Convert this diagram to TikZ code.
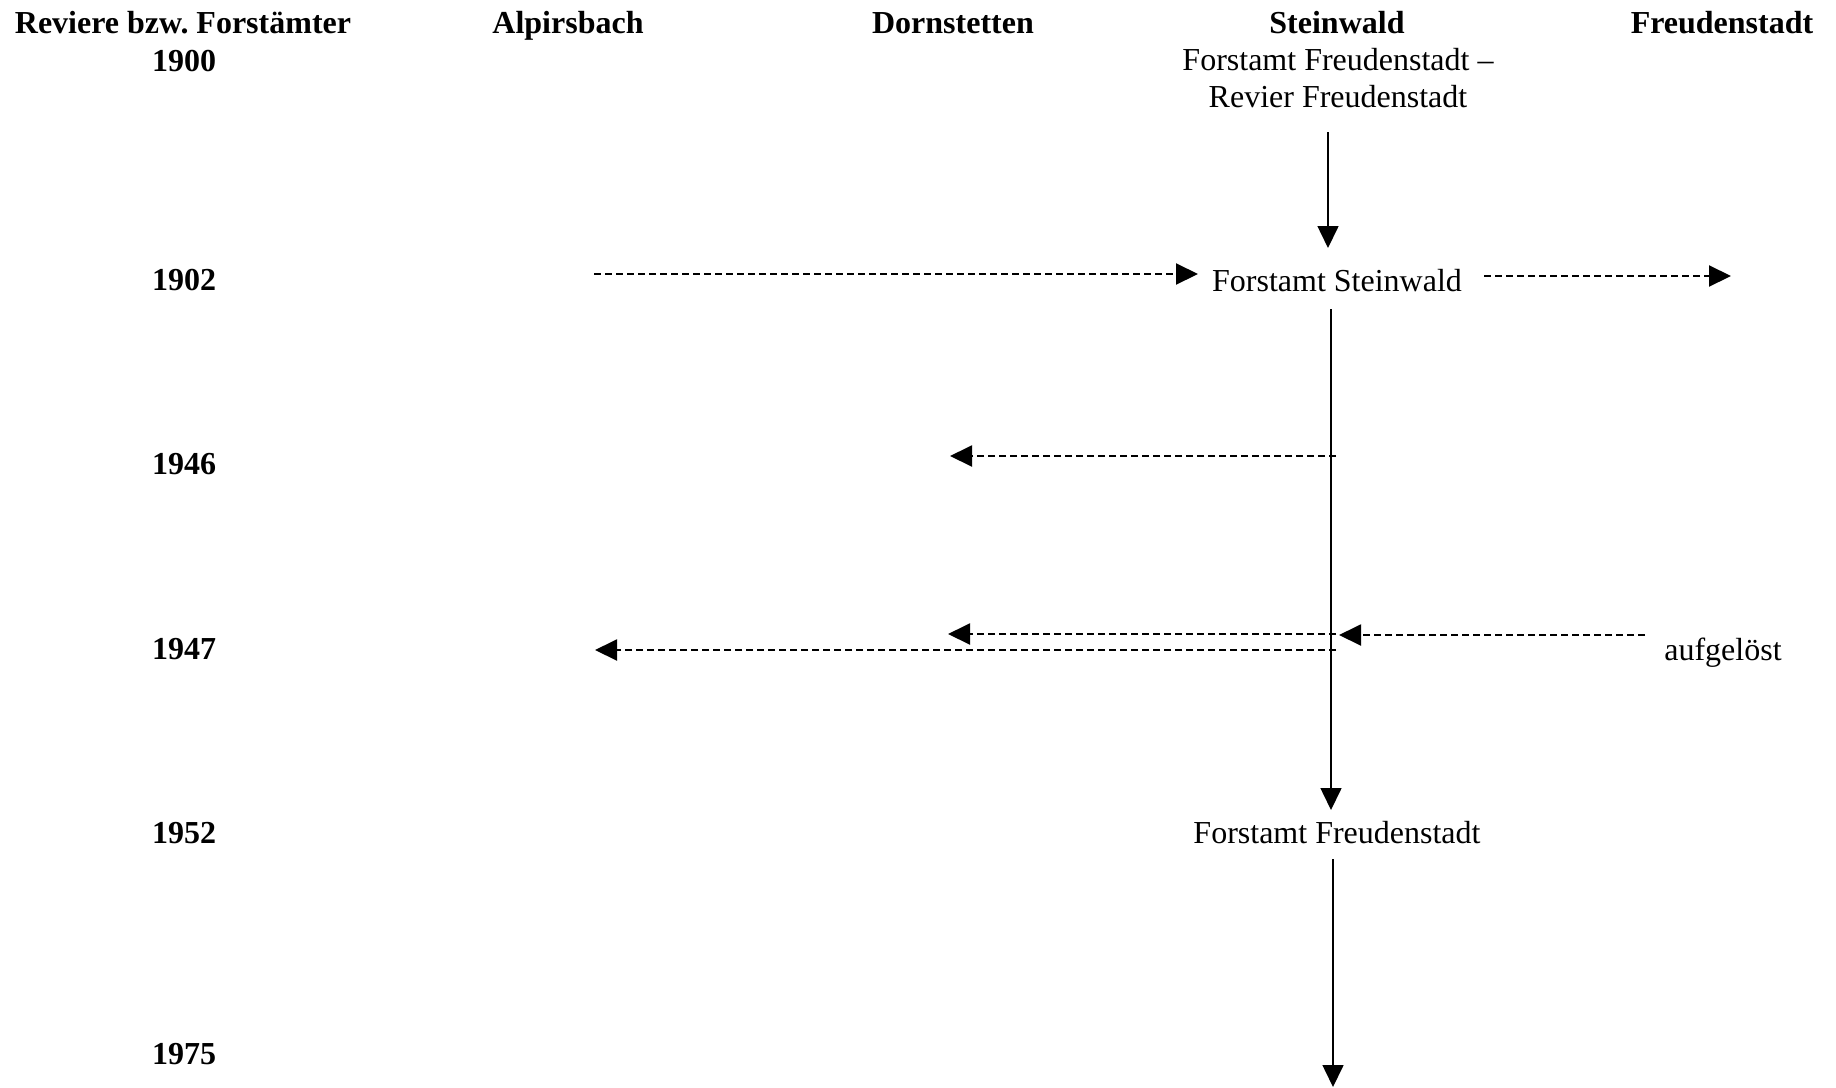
\documentclass[tikz,border=0pt]{standalone}
\usepackage{fontspec}
\setmainfont{Liberation Serif}
\usetikzlibrary{arrows.meta}
\frenchspacing
\begin{document}
\begin{tikzpicture}[x=0.5pt,y=-0.5pt,
  hd/.style={font=\fontsize{16}{18.4}\selectfont\bfseries, inner sep=0pt, anchor=base},
  txt/.style={font=\fontsize{16}{18.4}\selectfont, inner sep=0pt, anchor=base, align=center},
  tip/.style={-{Triangle[length=11pt,width=10.5pt]}},
  solidarr/.style={tip, line width=0.8pt},
  dasharr/.style={tip, line width=1pt, dash pattern=on 3.5pt off 2pt}]
\useasboundingbox (0,0) rectangle (1836,1087);
% headers
\node[hd] (h0) at (183,33) {Reviere bzw.\ Forstämter};
\node[hd] (h1) at (568,33) {Alpirsbach};
\node[hd] (h2) at (953,33) {Dornstetten};
\node[hd] (h3) at (1337,33) {Steinwald};
\node[hd] (h4) at (1722,33) {Freudenstadt};
% years
\node[hd] (y1900) at (184,71) {1900};
\node[hd] (y1902) at (184,290) {1902};
\node[hd] (y1946) at (184,474) {1946};
\node[hd] (y1947) at (184,659) {1947};
\node[hd] (y1952) at (184,843) {1952};
\node[hd] (y1975) at (184,1064) {1975};
% texts
\node[txt] (f1900) at (1338,107) {Forstamt Freudenstadt --\\Revier Freudenstadt};
\node[txt] (fst) at (1337,291) {Forstamt Steinwald};
\node[txt] (ffr) at (1337,843) {Forstamt Freudenstadt};
\node[txt] (auf) at (1723,660) {aufgelöst};
% coordinates
\coordinate (a1s) at (1328,132);
\coordinate (a1e) at (1328,248);
\coordinate (l1s) at (1331,309);
\coordinate (l1e) at (1331,810);
\coordinate (l2s) at (1333,859);
\coordinate (l2e) at (1333,1087);
\coordinate (alp02) at (594,274);
\coordinate (fst02) at (1198,274);
\coordinate (fr02s) at (1484,276);
\coordinate (fr02e) at (1731,276);
\coordinate (b46s) at (1336,456);
\coordinate (b46e) at (950,456);
\coordinate (b47as) at (1336,634);
\coordinate (b47ae) at (948,634);
\coordinate (b47bs) at (1645,635);
\coordinate (b47be) at (1339,635);
\coordinate (b47cs) at (1336,650);
\coordinate (b47ce) at (595,650);
% connectors
\draw[solidarr] (a1s) -- (a1e);
\draw[solidarr] (l1s) -- (l1e);
\draw[solidarr] (l2s) -- (l2e);
\draw[dasharr] (alp02) -- (fst02);
\draw[dasharr] (fr02s) -- (fr02e);
\draw[dasharr] (b46s) -- (b46e);
\draw[dasharr] (b47as) -- (b47ae);
\draw[dasharr] (b47bs) -- (b47be);
\draw[dasharr] (b47cs) -- (b47ce);
\end{tikzpicture}
\end{document}
